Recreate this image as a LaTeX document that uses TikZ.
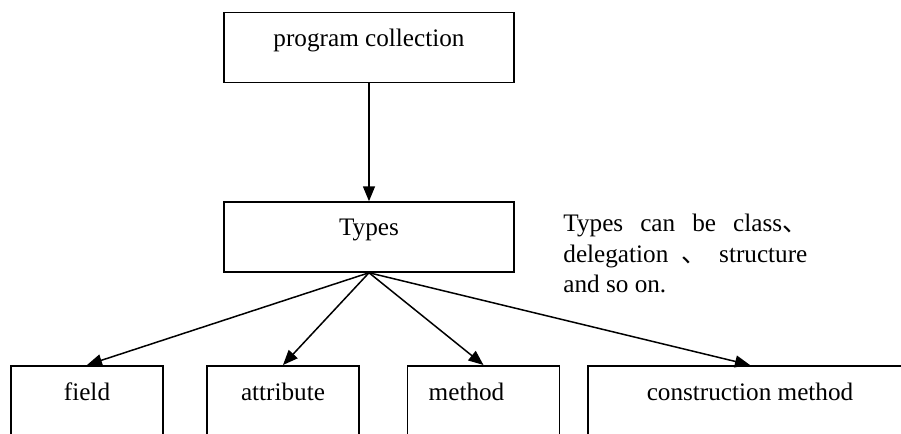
\documentclass[tikz,border=0pt]{standalone}
\usepackage{fontspec}
\setmainfont{Liberation Serif}
\newfontfamily\cjk{Noto Sans CJK SC}
\usetikzlibrary{positioning, arrows.meta}

\tikzset{
  box/.style={draw, line width=0.75pt, inner sep=0pt, minimum width=145pt, minimum height=35pt},
  openbox/.style={draw, line width=0.75pt, inner sep=0pt, minimum width=76pt, minimum height=60pt, anchor=north},
  link/.style={-{Triangle[length=7.5pt,width=6pt]}, line width=0.75pt},
  lbl/.style={anchor=base, inner sep=0pt, font=\fontsize{12.6}{15}\selectfont}
}

\begin{document}
\begin{tikzpicture}[x=0.5pt, y=-0.5pt]
  \useasboundingbox (0,0) rectangle (901,434);
  \clip (0,0) rectangle (901,434);

  % Upper boxes
  \node[box] (prog) at (369,47.5) {};
  \node[lbl] (progtxt) at ([yshift=-17.5pt]prog.north) {program collection};
  \node[box] (types) at (369,237) {};
  \node[lbl] (typestxt) at ([yshift=-17pt]types.north) {Types};
  \draw[link] (prog) -- (types);

  % Side note
  \node[anchor=north west, inner sep=0pt, text width=122pt, align=justify,
        font=\fontsize{12.6}{15.2}\selectfont] (note) at (563,214)
    {Types can be class{\cjk 、}\linebreak delegation {\cjk 、} structure\linebreak and so on.};

  % Lower boxes (cut off at the bottom)
  \node[openbox] (field) at (87,365) {};
  \node[openbox] (attr) at (283,365) {};
  \node[openbox] (meth) at (483.5,365) {};
  \node[openbox, minimum width=162pt] (cons) at (750,365) {};
  \node[lbl] (fieldtxt) at ([yshift=-17.5pt]field.north) {field};
  \node[lbl] (attrtxt) at ([yshift=-17.5pt]attr.north) {attribute};
  \node[lbl] (methtxt) at ([xshift=-8.5pt, yshift=-17.5pt]meth.north) {method};
  \node[lbl] (constxt) at ([yshift=-17.5pt]cons.north) {construction method};

  % Links from Types
  \draw[link] (types.south) -- (field.north);
  \draw[link] (types.south) -- (attr.north);
  \draw[link] (types.south) -- (meth.north);
  \draw[link] (types.south) -- (cons.north);
\end{tikzpicture}
\end{document}
